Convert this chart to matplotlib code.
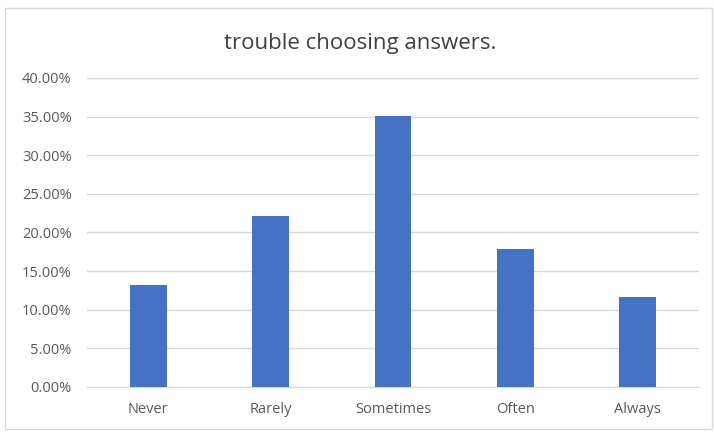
import matplotlib.pyplot as plt
from matplotlib.patches import Rectangle
from matplotlib.ticker import FuncFormatter, MultipleLocator

categories = ['Never', 'Rarely', 'Sometimes', 'Often', 'Always']
shares = [13.2, 22.1, 35.1, 17.9, 11.6]  # percent of respondents

fig = plt.figure(figsize=(7.14, 4.33), dpi=100)
fig.patch.set_facecolor('white')

# light chart-area frame
fig.patches.append(Rectangle((5 / 714, 4 / 433), 707 / 714, 421 / 433,
                             transform=fig.transFigure, fill=False,
                             edgecolor='#d9d9d9', linewidth=1.0))

ax = fig.add_axes([87 / 714, 46 / 433, 612 / 714, 309 / 433])
x = range(len(categories))
ax.bar(x, shares, width=0.30, color='#4472C4', zorder=3)

ax.set_xlim(-0.5, len(categories) - 0.5)
ax.set_ylim(0, 40)
ax.yaxis.set_major_locator(MultipleLocator(5))
ax.yaxis.set_major_formatter(FuncFormatter(lambda v, _: f'{v:.2f}%'))
ax.set_xticks(list(x))
ax.set_xticklabels(categories)

ax.grid(axis='y', color='#d9d9d9', linewidth=1.0, zorder=0)
for side in ['top', 'right', 'left']:
    ax.spines[side].set_visible(False)
ax.spines['bottom'].set_color('#d9d9d9')
ax.tick_params(axis='both', length=0, colors='#595959', labelsize=10.5)
ax.tick_params(axis='x', pad=11)
ax.tick_params(axis='y', pad=11)
for lab in ax.get_xticklabels() + ax.get_yticklabels():
    lab.set_family('Open Sans')

fig.text(360 / 714, 1 - 44 / 433, 'trouble choosing answers.', ha='center',
         va='center', fontsize=16, color='#404040', family='Open Sans')

fig.savefig('out.png', dpi=100)
